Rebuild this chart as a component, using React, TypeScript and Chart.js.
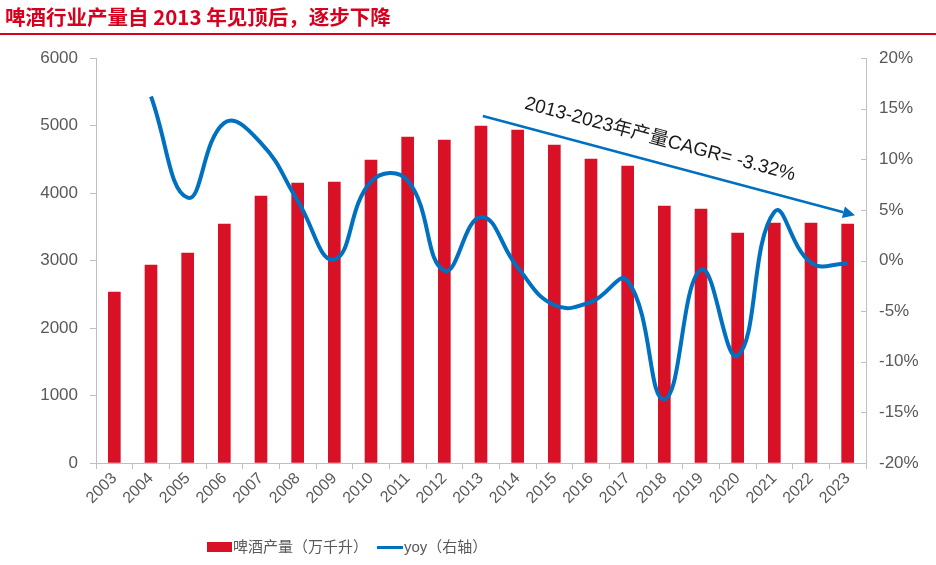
import React, { useEffect, useRef } from "react";
import { Chart, registerables } from "chart.js";

Chart.register(...registerables);

const TITLE = "啤酒行业产量自 2013 年见顶后，逐步下降";
const YEARS = ["2003","2004","2005","2006","2007","2008","2009","2010","2011","2012","2013","2014","2015","2016","2017","2018","2019","2020","2021","2022","2023"];
const OUTPUT = [2533, 2933, 3111, 3541, 3956, 4148, 4163, 4489, 4830, 4785, 4993, 4933, 4711, 4504, 4400, 3807, 3763, 3407, 3556, 3556, 3541];
const YOY = [null, 16.2, 6.2, 13.6, 11.6, 5.9, 0.1, 7.8, 7.9, -1.0, 4.3, -0.7, -4.4, -4.1, -2.0, -13.7, -0.9, -9.4, 4.8, -0.2, -0.3];
const LEFT_TICKS = { min: 0, max: 6000, step: 1000 };
const RIGHT_TICKS = { min: -20, max: 20, step: 5 };
const BAR_LABEL = "啤酒产量（万千升）";
const LINE_LABEL = "yoy（右轴）";
const ANNOTATION = "2013-2023年产量CAGR= -3.32%";
// arrow anchors in data space: [category index, left-axis value]
const ARROW_FROM = [10.05, 5140];
const ARROW_TO = [20.2, 3670];

const RED = "rgb(217,17,38)";
const BLUE = "rgb(0,112,192)";
const AXIS = "#BFBFBF";
const TXT = "#595959";
const FONT = "'Liberation Sans', Arial, 'Noto Sans CJK SC', sans-serif";

const arrowPlugin = {
  id: "cagrArrow",
  afterDatasetsDraw(chart: any) {
    const { ctx, scales } = chart;
    const xs = scales.x, ys = scales.y;
    const x0 = xs.getPixelForValue(ARROW_FROM[0]);
    const y0 = ys.getPixelForValue(ARROW_FROM[1]);
    const x1 = xs.getPixelForValue(ARROW_TO[0]);
    const y1 = ys.getPixelForValue(ARROW_TO[1]);
    const ang = Math.atan2(y1 - y0, x1 - x0);
    ctx.save();
    ctx.strokeStyle = BLUE;
    ctx.fillStyle = BLUE;
    ctx.lineWidth = 2.5;
    const hl = 12, hw = 6;
    const bx = x1 - hl * Math.cos(ang), by = y1 - hl * Math.sin(ang);
    ctx.beginPath();
    ctx.moveTo(x0, y0);
    ctx.lineTo(bx, by);
    ctx.stroke();
    ctx.beginPath();
    ctx.moveTo(x1, y1);
    ctx.lineTo(bx + hw * Math.sin(ang), by - hw * Math.cos(ang));
    ctx.lineTo(bx - hw * Math.sin(ang), by + hw * Math.cos(ang));
    ctx.closePath();
    ctx.fill();
    // inner tick marks on right axis
    const yr = scales.y1;
    ctx.strokeStyle = AXIS;
    ctx.lineWidth = 1;
    for (let v = RIGHT_TICKS.min; v <= RIGHT_TICKS.max; v += RIGHT_TICKS.step) {
      const py = Math.round(yr.getPixelForValue(v)) + 0.5;
      ctx.beginPath();
      ctx.moveTo(yr.left - 5, py);
      ctx.lineTo(yr.left, py);
      ctx.stroke();
    }
    // text
    const t = 0.46;
    const mx = x0 + (x1 - x0) * t, my = y0 + (y1 - y0) * t;
    const off = 23;
    const tx = mx + off * Math.sin(ang), ty = my - off * Math.cos(ang);
    ctx.translate(tx, ty);
    ctx.rotate(ang);
    ctx.fillStyle = "#1a1a1a";
    ctx.font = `19px ${FONT}`;
    ctx.textAlign = "center";
    ctx.textBaseline = "middle";
    ctx.fillText(ANNOTATION, 0, 0);
    ctx.restore();
  },
};

export default function App() {
  const ref = useRef<HTMLCanvasElement | null>(null);
  useEffect(() => {
    if (!ref.current) return;
    const chart = new Chart(ref.current, {
      type: "bar",
      data: {
        labels: YEARS,
        datasets: [
          {
            type: "line",
            label: LINE_LABEL,
            data: YOY as any,
            yAxisID: "y1",
            borderColor: BLUE,
            backgroundColor: BLUE,
            borderWidth: 4,
            pointRadius: 0,
            tension: 0.45,
            order: 0,
          } as any,
          {
            type: "bar",
            label: BAR_LABEL,
            data: OUTPUT,
            yAxisID: "y",
            backgroundColor: RED,
            barThickness: 12,
            order: 1,
          },
        ],
      },
      options: {
        animation: false,
        responsive: false,
        layout: { padding: { top: 58, left: 0, right: 0, bottom: 0 } },
        plugins: { legend: { display: false }, tooltip: { enabled: false } },
        scales: {
          x: {
            offset: true,
            grid: { display: true, drawOnChartArea: false, offset: true, tickLength: 6, color: AXIS },
            border: { color: AXIS },
            ticks: { color: TXT, font: { size: 16, family: FONT }, maxRotation: 45, minRotation: 45, padding: 0 },
            afterFit: (s: any) => { s.height = 102; },
          },
          y: {
            position: "left",
            min: LEFT_TICKS.min,
            max: LEFT_TICKS.max,
            ticks: { stepSize: LEFT_TICKS.step, color: TXT, font: { size: 17, family: FONT }, padding: 12, callback: (v: any) => String(v) },
            grid: { drawOnChartArea: false, tickLength: 6, color: AXIS },
            border: { color: AXIS },
            afterFit: (s: any) => { s.width = 96; },
          },
          y1: {
            position: "right",
            min: RIGHT_TICKS.min,
            max: RIGHT_TICKS.max,
            ticks: { stepSize: RIGHT_TICKS.step, color: TXT, font: { size: 17, family: FONT }, padding: 13, callback: (v: any) => `${v}%` },
            grid: { drawOnChartArea: false, drawTicks: false, color: AXIS },
            border: { color: AXIS },
            afterFit: (s: any) => { s.width = 70; },
          },
        },
      },
      plugins: [arrowPlugin],
    } as any);
    return () => chart.destroy();
  }, []);

  const legendText: React.CSSProperties = { position: "absolute", top: 536, height: 22, lineHeight: "22px", fontFamily: FONT, fontSize: 15, color: TXT, whiteSpace: "nowrap" };

  return (
    <div style={{ position: "absolute", left: 0, top: 0, width: 936, height: 565, background: "#fff", overflow: "hidden" }}>
      <canvas ref={ref} width={936} height={565} style={{ position: "absolute", left: 0, top: 0 }} />
      <div style={{ position: "absolute", left: 5, top: 3, fontFamily: "'Noto Sans CJK SC', sans-serif", fontWeight: 700, fontSize: 20.5, color: "rgb(215,0,30)", lineHeight: "26px", whiteSpace: "nowrap" }}>
        {TITLE}
      </div>
      <div style={{ position: "absolute", left: 0, top: 33, width: 936, height: 2, background: "rgb(215,0,30)" }} />
      <span style={{ position: "absolute", left: 207, top: 542, width: 25, height: 10, background: RED }} />
      <span style={{ ...legendText, left: 233 }}>{BAR_LABEL}</span>
      <span style={{ position: "absolute", left: 377, top: 546, width: 26, height: 3, background: BLUE }} />
      <span style={{ ...legendText, left: 404 }}>{LINE_LABEL}</span>
    </div>
  );
}
